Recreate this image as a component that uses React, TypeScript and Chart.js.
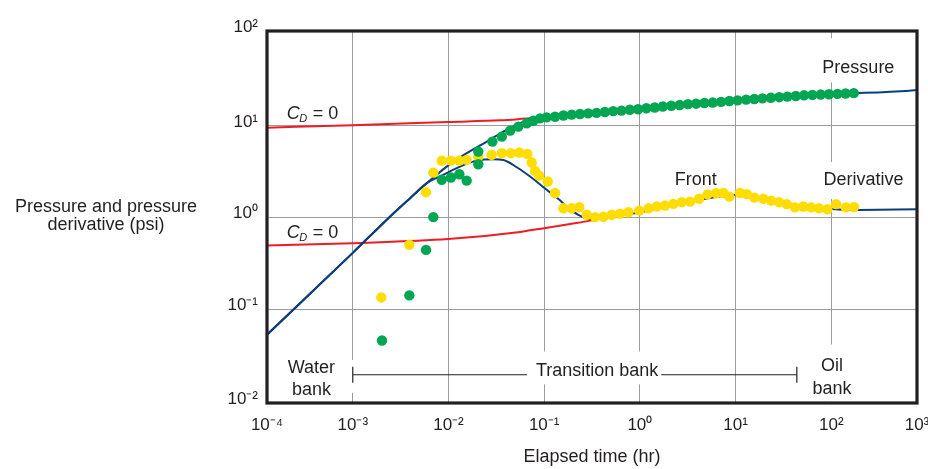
import React, { useEffect, useRef } from 'react';
import { Chart, registerables } from 'chart.js';

Chart.register(...registerables);

// ---------- axes ----------
const X_MIN = 1.27e-4;
const X_MAX = 787;
const Y_MIN = 0.00943;
const Y_MAX = 108.8;
const X_TICK_VALUES = [X_MIN, 1e-3, 1e-2, 1e-1, 1, 10, 100, X_MAX];
const X_TICK_LABELS = ['10⁻⁴', '10⁻³', '10⁻²', '10⁻¹', '10⁰', '10¹', '10²', '10³'];
const Y_TICK_VALUES = [Y_MIN, 0.1, 1, 10, Y_MAX];
const Y_TICK_LABELS = ['10⁻²', '10⁻¹', '10⁰', '10¹', '10²'];
const X_TITLE = 'Elapsed time (hr)';
const Y_TITLE = ['Pressure and pressure', 'derivative (psi)'];

// ---------- measured pressure (green dots) ----------
const PRESSURE_T = [
  0.00202, 0.0039, 0.00583, 0.00695, 0.00851, 0.0106, 0.013, 0.0155, 0.0205, 0.0205,
  0.0288, 0.0361, 0.0441, 0.0537, 0.0658, 0.0771, 0.0906, 0.106, 0.13,
  0.159, 0.194, 0.237, 0.289, 0.353, 0.431, 0.526, 0.643, 0.785, 0.957,
  1.17, 1.43, 1.74, 2.13, 2.6, 3.18, 3.87, 4.73, 5.78, 7.06,
  8.61, 10.5, 12.9, 15.7, 19.1, 23.4, 28.6, 34.8, 42.6, 52.0,
  63.5, 77.5, 94.6, 116, 141, 172,
];
const PRESSURE_P = [
  0.0454, 0.141, 0.443, 1.01, 2.58, 2.73, 2.97, 2.53, 3.82, 5.25,
  6.74, 7.64, 8.89, 9.82, 10.7, 11.4, 12.1, 12.4, 12.6,
  13.0, 13.3, 13.5, 13.7, 13.9, 14.2, 14.5, 14.7, 15.0, 15.2,
  15.6, 15.9, 16.3, 16.6, 16.9, 17.3, 17.5, 17.8, 18.0, 18.3,
  18.7, 19.0, 19.4, 19.7, 20.0, 20.3, 20.6, 20.9, 21.2, 21.6,
  21.8, 22.0, 22.2, 22.4, 22.6, 22.8,
];

// ---------- measured derivative (yellow dots) ----------
const DERIV_T = [
  0.00199, 0.0039, 0.00583, 0.00695, 0.00851, 0.0106, 0.013, 0.0155, 0.0205, 0.0283,
  0.0361, 0.0448, 0.0551, 0.0667, 0.0741, 0.0803, 0.0885, 0.109, 0.13, 0.159,
  0.194, 0.233, 0.279, 0.34, 0.416, 0.508, 0.621, 0.759, 0.982, 1.23,
  1.5, 1.83, 2.24, 2.74, 3.35, 4.16, 5.09, 6.25, 7.46, 8.61,
  11.1, 13.1, 15.7, 19.5, 23.5, 28.5, 34.3, 41.9, 51.1, 61.5,
  74.6, 91.0, 112, 142, 173,
];
const DERIV_D = [
  0.134, 0.504, 1.89, 3.09, 4.18, 4.18, 4.18, 4.26, 4.62, 4.83,
  5.04, 5.04, 5.12, 4.94, 3.98, 3.23, 2.87, 2.47, 1.85, 1.26,
  1.26, 1.3, 1.07, 1.01, 1.02, 1.07, 1.1, 1.14, 1.19, 1.26,
  1.32, 1.35, 1.41, 1.47, 1.49, 1.6, 1.79, 1.84, 1.85, 1.69,
  1.85, 1.8, 1.65, 1.6, 1.53, 1.47, 1.4, 1.29, 1.32, 1.29,
  1.26, 1.23, 1.4, 1.29, 1.3,
];

// ---------- model pressure (blue) ----------
const MODEL_P_T = [
  1.27e-4, 1e-3, 0.002355, 0.003972, 0.005929, 0.009594, 0.01552, 0.02512, 0.0375,
  0.05176, 0.07129, 0.1153, 0.2371, 1.0, 4.266, 9.886, 47.32, 99.5, 173.4, 654.6, 787,
];
const MODEL_P = [
  0.0525, 0.411, 0.984, 1.626, 2.371, 3.597, 5.035, 6.745, 8.67,
  10.26, 11.91, 12.62, 13.68, 15.21, 17.7, 18.88, 21.53, 22.34, 22.75, 24.27, 24.72,
];

// ---------- model derivative (blue) ----------
const MODEL_D_T = [
  1.27e-4, 1e-3, 0.002355, 0.003972, 0.005929, 0.00879, 0.01321, 0.01977, 0.02944, 0.0375,
  0.05176, 0.07129, 0.09817, 0.1442, 0.1722, 0.2275, 0.302, 0.3837, 0.6209, 1.0,
  1.626, 2.642, 4.276, 6.918, 9.886, 18.11, 37.24, 76.74, 190.5, 787,
];
const MODEL_D = [
  0.0525, 0.411, 0.984, 1.626, 2.371, 2.917, 3.597, 4.178, 4.335, 4.256,
  3.54, 2.799, 2.143, 1.56, 1.315, 1.069, 0.966, 0.97, 1.054, 1.138,
  1.274, 1.409, 1.56, 1.702, 1.766, 1.596, 1.39, 1.259, 1.211, 1.227,
];

// ---------- C_D = 0 curves (red) ----------
const CD0_UPPER_T = [1.27e-4, 1e-3, 0.0099, 0.0346, 0.0693, 0.1];
const CD0_UPPER = [9.58, 10.2, 11.06, 11.5, 12.1, 12.4];
const CD0_LOWER_T = [1.27e-4, 1e-3, 0.0099, 0.0561, 0.1, 0.187, 0.303, 0.341];
const CD0_LOWER = [0.494, 0.525, 0.581, 0.696, 0.765, 0.85, 0.925, 0.955];

// ---------- annotations (anchored in data units) ----------
const ANNOTATIONS = [
  { lines: [{ text: 'Pressure', v: 37.6 }], t: 192, pad: [6, 22, 6, 9] },
  { lines: [{ text: 'Derivative', v: 2.27 }], t: 217, pad: [6, 10, 6, 14] },
  { lines: [{ text: 'Front', v: 2.27 }], t: 3.83, pad: null },
  { lines: [{ text: 'Water', v: 0.02004 }, { text: 'bank', v: 0.01161 }], t: 3.7e-4, pad: [6, 0, 19, -2] },
  { lines: [{ text: 'Transition bank', v: 0.01841 }], t: 0.358, pad: [9, 12, 3, 8] },
  { lines: [{ text: 'Oil', v: 0.02085 }, { text: 'bank', v: 0.01191 }], t: 102, pad: [6, 14, 6, 8] },
];
const CD_LABELS = [
  { t: 2.04e-4, v: 11.92 },
  { t: 2.04e-4, v: 0.596 },
];
const BRACKET = { t1: 1e-3, t2: 43.7, v: 0.01919 };

const GREEN = '#00a651';
const YELLOW = '#ffdd00';
const BLUE = '#0c3d7c';
const RED = '#ee1c25';
const GRID = '#9c9c9c';
const INK = '#231f20';

function pickFont() {
  const c = document.createElement('canvas').getContext('2d') as CanvasRenderingContext2D;
  const probe = 'Pressure and pressure 0123';
  c.font = '40px monospace';
  const base = c.measureText(probe).width;
  c.font = '40px "Liberation Sans Narrow", monospace';
  const narrow = c.measureText(probe).width;
  if (Math.abs(narrow - base) > 0.5) {
    return { family: '"Liberation Sans Narrow", "Liberation Sans", sans-serif', label: 22, tick: 20 };
  }
  return { family: '"Liberation Sans", Arial, sans-serif', label: 18, tick: 17 };
}

function xy(ts: number[], vs: number[]) {
  return ts.map((t, i) => ({ x: t, y: vs[i] }));
}

export default function App() {
  const canvasRef = useRef<HTMLCanvasElement | null>(null);

  useEffect(() => {
    document.body.style.margin = '0';
    const F = pickFont();

    const overlay = {
      id: 'overlay',
      beforeDatasetsDraw(chart: any) {
        const { ctx, scales } = chart;
        const xs = scales.x;
        const ys = scales.y;
        ctx.save();
        ctx.font = `${F.label}px ${F.family}`;
        const cap = F.label * 0.72;
        const boxes: any[] = [];
        ANNOTATIONS.forEach((a) => {
          const cx = xs.getPixelForValue(a.t);
          const w = Math.max(...a.lines.map((l) => ctx.measureText(l.text).width));
          const top = ys.getPixelForValue(a.lines[0].v) - cap;
          const bot = ys.getPixelForValue(a.lines[a.lines.length - 1].v);
          const p = a.pad || [0, 0, 0, 0];
          const box = { l: cx - w / 2 - p[0], t: top - p[1], r: cx + w / 2 + p[2], b: bot + p[3] };
          boxes.push(box);
          if (a.pad) {
            ctx.fillStyle = '#ffffff';
            ctx.fillRect(box.l, box.t, box.r - box.l, box.b - box.t);
          }
        });
        // bracket of the transition bank
        const tb = boxes[4];
        const by = ys.getPixelForValue(BRACKET.v);
        const bx1 = xs.getPixelForValue(BRACKET.t1);
        const bx2 = xs.getPixelForValue(BRACKET.t2);
        ctx.strokeStyle = INK;
        ctx.lineWidth = 1.2;
        ctx.beginPath();
        ctx.moveTo(bx1, by); ctx.lineTo(tb.l, by);
        ctx.moveTo(tb.r, by); ctx.lineTo(bx2, by);
        ctx.moveTo(bx1, by - 8); ctx.lineTo(bx1, by + 8);
        ctx.moveTo(bx2, by - 8); ctx.lineTo(bx2, by + 8);
        ctx.stroke();
        // texts
        ctx.fillStyle = INK;
        ctx.textAlign = 'center';
        ctx.textBaseline = 'alphabetic';
        ANNOTATIONS.forEach((a) => {
          const cx = xs.getPixelForValue(a.t);
          a.lines.forEach((l) => ctx.fillText(l.text, cx, ys.getPixelForValue(l.v)));
        });
        // C_D = 0
        CD_LABELS.forEach((c) => {
          const x0 = xs.getPixelForValue(c.t);
          const y0 = ys.getPixelForValue(c.v);
          ctx.textAlign = 'left';
          ctx.font = `italic ${F.label}px ${F.family}`;
          ctx.fillText('C', x0, y0);
          let w = ctx.measureText('C').width;
          ctx.font = `italic ${Math.round(F.label * 0.62)}px ${F.family}`;
          ctx.fillText('D', x0 + w - 0.5, y0 + F.label * 0.18);
          w += ctx.measureText('D').width;
          ctx.font = `${F.label}px ${F.family}`;
          ctx.fillText(' = 0', x0 + w, y0);
        });
        ctx.restore();
      },
      afterDraw(chart: any) {
        const { ctx, chartArea } = chart;
        ctx.save();
        ctx.strokeStyle = INK;
        ctx.lineWidth = 3.2;
        ctx.strokeRect(chartArea.left, chartArea.top, chartArea.right - chartArea.left, chartArea.bottom - chartArea.top);
        // y-axis title, horizontal, left of the axis
        ctx.fillStyle = INK;
        ctx.font = `${F.label}px ${F.family}`;
        ctx.textAlign = 'center';
        ctx.textBaseline = 'alphabetic';
        const mid = (chartArea.top + chartArea.bottom) / 2;
        const cx = chartArea.left - 161;
        ctx.fillText(Y_TITLE[0], cx, mid - 4.7);
        ctx.fillText(Y_TITLE[1], cx, mid + 13);
        ctx.restore();
      },
    };

    const dot = (color: string) => ({
      showLine: false,
      pointRadius: 5.2,
      pointHoverRadius: 5.2,
      pointBackgroundColor: color,
      pointBorderColor: color,
      pointBorderWidth: 0,
    });
    const line = (color: string) => ({
      borderColor: color,
      borderWidth: 2,
      pointRadius: 0,
      cubicInterpolationMode: 'monotone' as const,
      fill: false,
    });

    const chart = new Chart(canvasRef.current as HTMLCanvasElement, {
      type: 'line',
      data: {
        datasets: [
          { label: 'Pressure', data: xy(PRESSURE_T, PRESSURE_P), ...dot(GREEN), order: 0 },
          { label: 'Derivative', data: xy(DERIV_T, DERIV_D), ...dot(YELLOW), order: 1 },
          { label: 'Pressure model', data: xy(MODEL_P_T, MODEL_P), ...line(BLUE), order: 2 },
          { label: 'Derivative model', data: xy(MODEL_D_T, MODEL_D), ...line(BLUE), order: 2 },
          { label: 'C_D = 0 pressure', data: xy(CD0_UPPER_T, CD0_UPPER), ...line(RED), order: 3 },
          { label: 'C_D = 0 derivative', data: xy(CD0_LOWER_T, CD0_LOWER), ...line(RED), order: 3 },
        ] as any,
      },
      options: {
        animation: false,
        responsive: false,
        events: [],
        layout: { padding: { top: 31, right: 11, left: 0, bottom: 0 } },
        plugins: { legend: { display: false }, tooltip: { enabled: false } },
        scales: {
          x: {
            type: 'logarithmic',
            min: X_MIN,
            max: X_MAX,
            bounds: 'data',
            afterBuildTicks: (s: any) => { s.ticks = X_TICK_VALUES.map((value) => ({ value })); },
            afterFit: (s: any) => { s.height = 66; s.paddingLeft = 0; s.paddingRight = 0; },
            grid: { color: GRID, lineWidth: 1, drawTicks: false },
            border: { display: false },
            ticks: {
              autoSkip: false,
              maxRotation: 0,
              minRotation: 0,
              padding: 27.7 - 0.91 * F.tick,
              color: INK,
              font: { family: F.family, size: F.tick },
              callback: (_v: any, i: number) => X_TICK_LABELS[i],
            },
            title: {
              display: true,
              text: X_TITLE,
              color: INK,
              font: { family: F.family, size: F.label },
              padding: { top: 0, bottom: 1 },
            },
          },
          y: {
            type: 'logarithmic',
            min: Y_MIN,
            max: Y_MAX,
            bounds: 'data',
            afterBuildTicks: (s: any) => { s.ticks = Y_TICK_VALUES.map((value) => ({ value })); },
            afterFit: (s: any) => { s.width = 267; s.paddingTop = 0; s.paddingBottom = 0; },
            grid: { color: GRID, lineWidth: 1, drawTicks: false },
            border: { display: false },
            ticks: {
              autoSkip: false,
              padding: 9,
              labelOffset: -4,
              color: INK,
              font: { family: F.family, size: F.tick },
              callback: (_v: any, i: number) => Y_TICK_LABELS[i],
            },
          },
        },
      } as any,
      plugins: [overlay],
    });
    return () => chart.destroy();
  }, []);

  return (
    <div style={{ width: 928, height: 469, background: '#fff' }}>
      <canvas ref={canvasRef} width={928} height={469} style={{ display: 'block' }} />
    </div>
  );
}
